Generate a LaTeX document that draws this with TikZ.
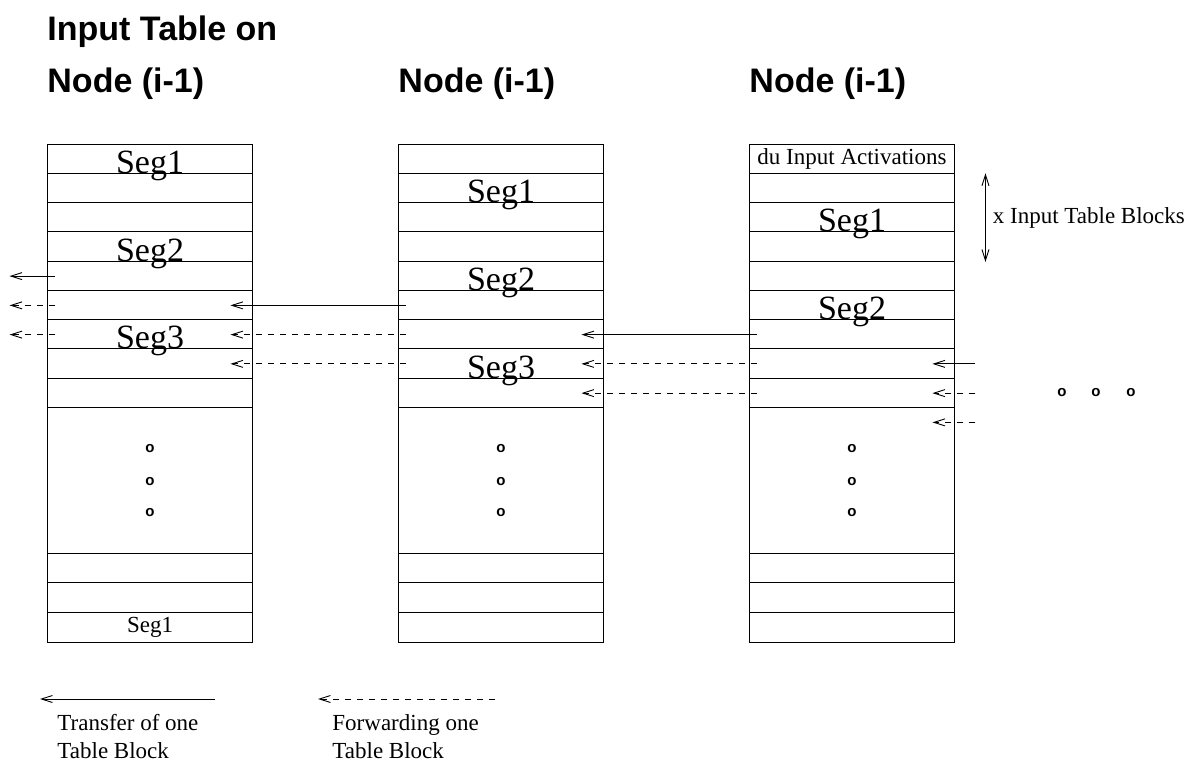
\documentclass[tikz,border=0pt]{standalone}
\usepackage{fontspec}
\setmainfont{Liberation Serif}
\newfontfamily\headfont{Liberation Sans}
\usetikzlibrary{arrows.meta}
\tikzset{
    table-row/.style = {rectangle, inner sep=0pt, minimum width=204pt, minimum height=29.25pt},
    seg-label/.style = {font=\fontsize{34}{34}\selectfont, inner sep=0pt, anchor=base},
    small-label/.style = {font=\fontsize{23}{28}\selectfont, inner sep=0pt},
    title-text/.style = {font=\headfont\bfseries\fontsize{34}{34}\selectfont, inner sep=0pt, anchor=base west},
    dot-mark/.style = {font=\headfont\bfseries\fontsize{15}{15}\selectfont, inner sep=0pt},
    transfer-arrow/.style = {-{Straight Barb[length=11pt,width=7pt]}, line width=0.9pt},
    forward-arrow/.style = {transfer-arrow, dash pattern=on 6pt off 6pt},
}

\begin{document}
\begin{tikzpicture}[x=1pt, y=-1pt, line width=0.9pt]
\useasboundingbox (0,0) rectangle (1202,767);

\node[title-text] (head0) at (47,41) {Input Table on};
\foreach \cl/\x in {1/47, 2/398, 3/749}
    \node[title-text] (head\cl) at (\x,93) {Node (i-1)};

\foreach \cl/\x in {1/150, 2/501, 3/852} {
    \foreach \rw in {0,...,16}
        \node[table-row] (col\cl-\rw) at (\x,{144.5+(\rw+0.5)*29.25}) {};
    \draw (col\cl-0.north west) rectangle (col\cl-16.south east);
    \foreach \rw in {1,...,9,14,15,16}
        \draw (col\cl-\rw.north west) -- (col\cl-\rw.north east);
    \foreach \dy/\n in {32/1, -1/2, -32/3}
        \node[dot-mark] (dot\cl-\n) at ([yshift=\dy pt]col\cl-11) {o};
}

\foreach \cl/\rw/\s in {1/1/Seg1, 1/4/Seg2, 1/7/Seg3, 2/2/Seg1, 2/5/Seg2, 2/8/Seg3, 3/3/Seg1, 3/6/Seg2}
    \node[seg-label] (seg\cl-\rw) at (col\cl-\rw.north) {\s};
\node[small-label] (lastseg) at (col1-16) {Seg1};
\node[small-label] (act) at (col3-0) {du Input Activations};

\draw[{Straight Barb[length=11pt,width=7pt]}-{Straight Barb[length=11pt,width=7pt]}] ([xshift=31pt]col3-1.north east) -- ([xshift=31pt]col3-3.south east);
\node[small-label, anchor=west] (span) at ([xshift=38pt]col3-2.east) {x Input Table Blocks};

% out of the first table
\draw[transfer-arrow] ([xshift=7pt]col1-4.west) -- ([xshift=-38pt]col1-4.west);
\foreach \rw in {5,6}
    \draw[forward-arrow] ([xshift=7pt]col1-\rw.west) -- ([xshift=-38pt]col1-\rw.west);

% between tables
\foreach \src/\dst/\rw in {2/1/5, 3/2/6}
    \draw[transfer-arrow] ([xshift=7pt]col\src-\rw.west) -- ([xshift=-22pt]col\dst-\rw.east);
\foreach \src/\dst/\rw in {2/1/6, 2/1/7, 3/2/7, 3/2/8}
    \draw[forward-arrow] ([xshift=7pt]col\src-\rw.west) -- ([xshift=-22pt]col\dst-\rw.east);

% into the last table
\draw[transfer-arrow] ([xshift=21pt]col3-7.east) -- ([xshift=-22pt]col3-7.east);
\foreach \rw in {8,9}
    \draw[forward-arrow] ([xshift=21pt]col3-\rw.east) -- ([xshift=-22pt]col3-\rw.east);

\foreach \x/\n in {1062/1, 1096/2, 1131/3}
    \node[dot-mark] (more\n) at (\x,393) {o};

% legend
\coordinate (leg1-from) at (215,699);
\coordinate (leg1-to) at (40,699);
\coordinate (leg2-from) at (495,699);
\coordinate (leg2-to) at (318,699);
\draw[transfer-arrow] (leg1-from) -- (leg1-to);
\draw[forward-arrow] (leg2-from) -- (leg2-to);
\node[small-label, anchor=north west, align=left] (leg1) at (57,714) {Transfer of one\\Table Block};
\node[small-label, anchor=north west, align=left] (leg2) at (332,714) {Forwarding one\\Table Block};
\end{tikzpicture}
\end{document}
